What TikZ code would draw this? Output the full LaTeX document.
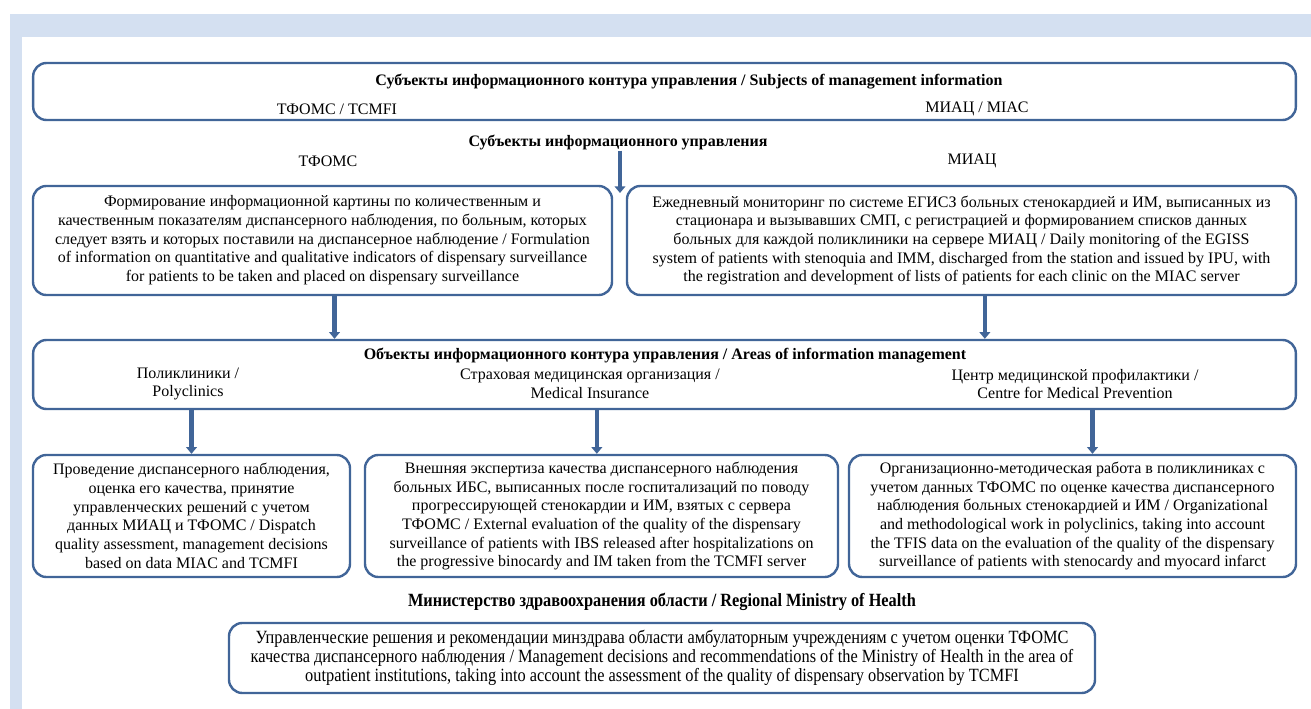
\documentclass[tikz,border=0pt]{standalone}
\usepackage{fontspec}
\setmainfont{Liberation Serif}
\newfontfamily\narrowserif[FakeStretch=0.875]{Liberation Serif}
\usepackage{tikz}
\usetikzlibrary{arrows.meta}

\definecolor{boxblue}{RGB}{65,101,152}
\definecolor{bgblue}{RGB}{212,224,241}

\tikzset{
  panel/.style={draw=boxblue, line width=1.8pt, rounded corners=10pt, align=center,
    inner sep=0pt, font=\fontsize{12}{14}\selectfont},
  caption/.style={align=center, inner sep=0pt, font=\fontsize{12}{14}\selectfont},
  flow/.style={draw=boxblue, line width=3.2pt, -{Triangle[width=8pt,length=5pt]}},
}

\begin{document}
\begin{tikzpicture}[x=0.75pt, y=-0.75pt]
    \useasboundingbox (0,0) rectangle (1311,709);

    % page frame
    \fill[bgblue] (10,14) rectangle (1311,37);
    \fill[bgblue] (10,14) rectangle (22,709);

    % subjects
    \node[panel, minimum width=947pt, minimum height=42.75pt] (subjects) at (664.5,91.5) {};
    \node[caption, font=\fontsize{12}{14}\selectfont\bfseries] (subjtitle) at (689,82)
        {Субъекты информационного контура управления / Subjects of management information};
    \node[caption] (subjtf) at (337,109) {ТФОМС / TCMFI};
    \node[caption] (subjmi) at (977,109) {МИАЦ / MIAC};

    \node[caption, font=\fontsize{12}{14}\selectfont\bfseries] (infotitle) at (618,143)
        {Субъекты информационного управления};
    \node[caption] (infotf) at (328,161) {ТФОМС};
    \node[caption] (infomi) at (972,161) {МИАЦ};

    % TFOMS and MIAC tasks
    \node[panel, minimum width=434.25pt, minimum height=81.75pt] (tfoms) at (322.5,240.5)
        {Формирование информационной картины по количественным и\\
         качественным показателям диспансерного наблюдения, по больным, которых\\
         следует взять и которых поставили на диспансерное наблюдение / Formulation\\
         of information on quantitative and qualitative indicators of dispensary surveillance\\
         for patients to be taken and placed on dispensary surveillance};
    \node[panel, minimum width=501.75pt, minimum height=81.75pt] (miac) at (961.5,240.5)
        {Ежедневный мониторинг по системе ЕГИСЗ больных стенокардией и ИМ, выписанных из\\
         стационара и вызывавших СМП, с регистрацией и формированием списков данных\\
         больных для каждой поликлиники на сервере МИАЦ / Daily monitoring of the EGISS\\
         system of patients with stenoquia and IMM, discharged from the station and issued by IPU, with\\
         the registration and development of lists of patients for each clinic on the MIAC server};

    % objects
    \node[panel, minimum width=947pt, minimum height=51.75pt] (objects) at (664.5,374.5) {};
    \node[caption, font=\fontsize{12}{14}\selectfont\bfseries] (objtitle) at (665,356)
        {Объекты информационного контура управления / Areas of information management};
    \node[caption] (objpoly) at (188,384) {Поликлиники /\\Polyclinics};
    \node[caption] (objins) at (590,384) {Страховая медицинская организация /\\Medical Insurance};
    \node[caption] (objprev) at (1075,384) {Центр медицинской профилактики /\\Centre for Medical Prevention};

    % works of the objects
    \node[panel, minimum width=237.75pt, minimum height=91.5pt] (poly) at (191.5,516)
        {Проведение диспансерного наблюдения,\\
         оценка его качества, принятие\\
         управленческих решений с учетом\\
         данных МИАЦ и ТФОМС / Dispatch\\
         quality assessment, management decisions\\
         based on data MIAC and TCMFI};
    \node[panel, minimum width=354.75pt, minimum height=91.5pt] (ins) at (601.5,516)
        {Внешняя экспертиза качества диспансерного наблюдения\\
         больных ИБС, выписанных после госпитализаций по поводу\\
         прогрессирующей стенокардии и ИМ, взятых с сервера\\
         ТФОМС / External evaluation of the quality of the dispensary\\
         surveillance of patients with IBS released after hospitalizations on\\
         the progressive binocardy and IM taken from the TCMFI server};
    \node[panel, minimum width=335.25pt, minimum height=91.5pt] (prev) at (1072.5,516)
        {Организационно-методическая работа в поликлиниках с\\
         учетом данных ТФОМС по оценке качества диспансерного\\
         наблюдения больных стенокардией и ИМ / Organizational\\
         and methodological work in polyclinics, taking into account\\
         the TFIS data on the evaluation of the quality of the dispensary\\
         surveillance of patients with stenocardy and myocard infarct};

    % ministry
    \node[caption, font=\fontsize{14}{15}\narrowserif\bfseries] (mintitle) at (662,602)
        {Министерство здравоохранения области / Regional Ministry of Health};
    \node[panel, minimum width=649.5pt, minimum height=52.5pt,
          font=\fontsize{14}{14.25}\narrowserif] (ministry) at (662,658)
        {Управленческие решения и рекомендации минздрава области амбулаторным учреждениям с учетом оценки ТФОМС\\
         качества диспансерного наблюдения / Management decisions and recommendations of the Ministry of Health in the area of\\
         outpatient institutions, taking into account the assessment of the quality of dispensary observation by TCMFI};

    % arrows
    \coordinate (split) at (620,193);
    \draw[flow] ([xshift=1.5pt]infotitle.south) -- (split);
    \draw[flow] ([xshift=9pt]tfoms.south) -- ([xshift=9pt]tfoms.south |- objects.north);
    \draw[flow] ([xshift=17.5pt]miac.south) -- ([xshift=17.5pt]miac.south |- objects.north);
    \draw[flow] (poly.north |- objects.south) -- (poly.north);
    \draw[flow] ([xshift=-3.5pt]ins.north |- objects.south) -- ([xshift=-3.5pt]ins.north);
    \draw[flow] ([xshift=15pt]prev.north |- objects.south) -- ([xshift=15pt]prev.north);
\end{tikzpicture}
\end{document}
